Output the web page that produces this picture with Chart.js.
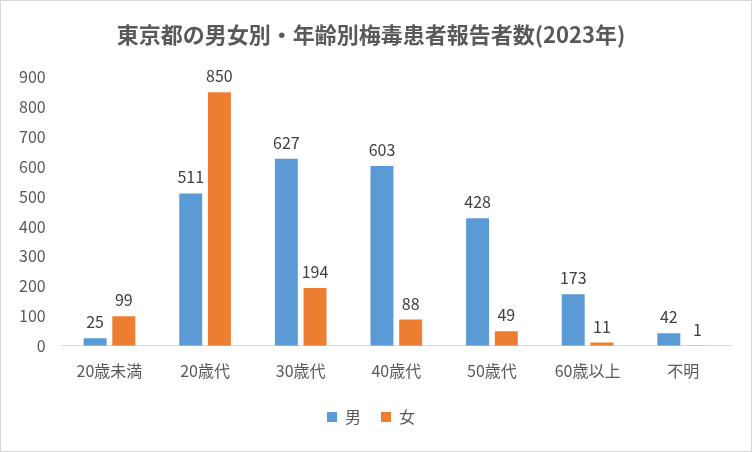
<!DOCTYPE html>
<html>
<head>
<meta charset="utf-8">
<script src="https://cdn.jsdelivr.net/npm/chart.js@4"></script>
<style>
  body { margin: 0; background: #fff; }
  .wrap { width: 750px; height: 450px; border: 1px solid #d9d9d9; }
</style>
</head>
<body>
<div class="wrap"><canvas id="myChart" width="750" height="450"></canvas></div>
<script>
const labels = ["20歳未満", "20歳代", "30歳代", "40歳代", "50歳代", "60歳以上", "不明"];
const male = [25, 511, 627, 603, 428, 173, 42];
const female = [99, 850, 194, 88, 49, 11, 1];
const yTicks = [0, 100, 200, 300, 400, 500, 600, 700, 800, 900];

const font = "'Noto Sans CJK JP', 'Noto Sans', sans-serif";

// values above bars
const valueLabels = {
  id: "valueLabels",
  afterDatasetsDraw(chart) {
    const ctx = chart.ctx;
    ctx.save();
    ctx.font = "16px " + font;
    ctx.fillStyle = "#404040";
    ctx.textAlign = "center";
    ctx.textBaseline = "bottom";
    chart.data.datasets.forEach((ds, i) => {
      chart.getDatasetMeta(i).data.forEach((bar, j) => {
        ctx.fillText(ds.data[j], bar.x, bar.y - 8);
      });
    });
    ctx.restore();
  },
};

const ctx = document.getElementById("myChart").getContext("2d");
new Chart(ctx, {
  type: "bar",
  data: {
    labels: labels,
    datasets: [
      { label: "男", data: male, backgroundColor: "#5B9BD5", categoryPercentage: 0.6, barPercentage: 0.8 },
      { label: "女", data: female, backgroundColor: "#ED7D31", categoryPercentage: 0.6, barPercentage: 0.8 },
    ],
  },
  options: {
    responsive: false,
    animation: false,
    layout: { padding: { left: 10, right: 20, top: 4, bottom: 16 } },
    plugins: {
      title: {
        display: true,
        text: "東京都の男女別・年齢別梅毒患者報告者数(2023年)",
        color: "#595959",
        font: { family: font, size: 22, weight: "bold" },
        padding: { top: 16, bottom: 30 },
      },
      legend: {
        position: "bottom",
        labels: { color: "#595959", font: { family: font, size: 16 }, boxWidth: 10, boxHeight: 10, padding: 20 },
      },
      tooltip: { enabled: false },
    },
    scales: {
      x: {
        grid: { display: false },
        border: { color: "#d9d9d9" },
        ticks: { color: "#595959", font: { family: font, size: 16 }, padding: 8 },
      },
      y: {
        min: 0,
        max: 900,
        afterBuildTicks: (axis) => { axis.ticks = yTicks.map((v) => ({ value: v })); },
        grid: { display: false },
        border: { display: false },
        ticks: { color: "#595959", font: { family: font, size: 16 }, padding: 8 },
      },
    },
  },
  plugins: [valueLabels],
});
</script>
</body>
</html>
